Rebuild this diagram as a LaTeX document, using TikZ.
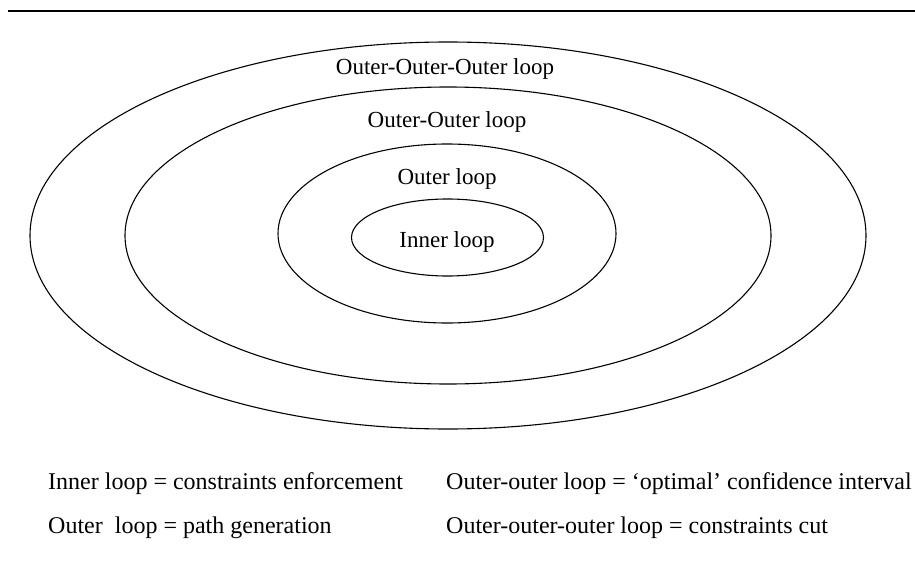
\documentclass[tikz,border=0pt]{standalone}
\usepackage{fontspec}
\setmainfont{Liberation Serif}
\begin{document}
\begin{tikzpicture}[x=1pt,y=-1pt,
  loopline/.style={draw=black,line width=1.1pt},
  looplabel/.style={anchor=base,inner sep=0pt,font=\fontsize{23}{27}\selectfont},
  legend/.style={anchor=base west,inner sep=0pt,font=\fontsize{24}{28}\selectfont}]
\useasboundingbox (0,0) rectangle (915,567);
% top rule
\coordinate (ruleL) at (8,11);
\coordinate (ruleR) at (915,11);
\draw[line width=2pt] (ruleL) -- (ruleR);
% concentric loops
\draw[loopline] (448,235.5) ellipse [x radius=418pt, y radius=193.5pt];
\draw[loopline] (448,235.5) ellipse [x radius=323pt, y radius=148.5pt];
\draw[loopline] (447,233.5) ellipse [x radius=169pt, y radius=89.5pt];
\draw[loopline] (447.5,237.5) ellipse [x radius=96pt, y radius=38.5pt];
% labels
\node[looplabel] (ooo) at (445,75) {Outer-Outer-Outer loop};
\node[looplabel] (oo) at (447,128) {Outer-Outer loop};
\node[looplabel] (o) at (447,184) {Outer loop};
\node[looplabel] (in) at (447,247) {Inner loop};
% legend
\node[legend] (l1) at (48,489) {Inner loop = constraints enforcement};
\node[legend] (l2) at (446,489) {Outer-outer loop = ‘optimal’ confidence interval};
\node[legend] (l3) at (48,533) {Outer\ \ loop = path generation};
\node[legend] (l4) at (446,533) {Outer-outer-outer loop = constraints cut};
\end{tikzpicture}
\end{document}
